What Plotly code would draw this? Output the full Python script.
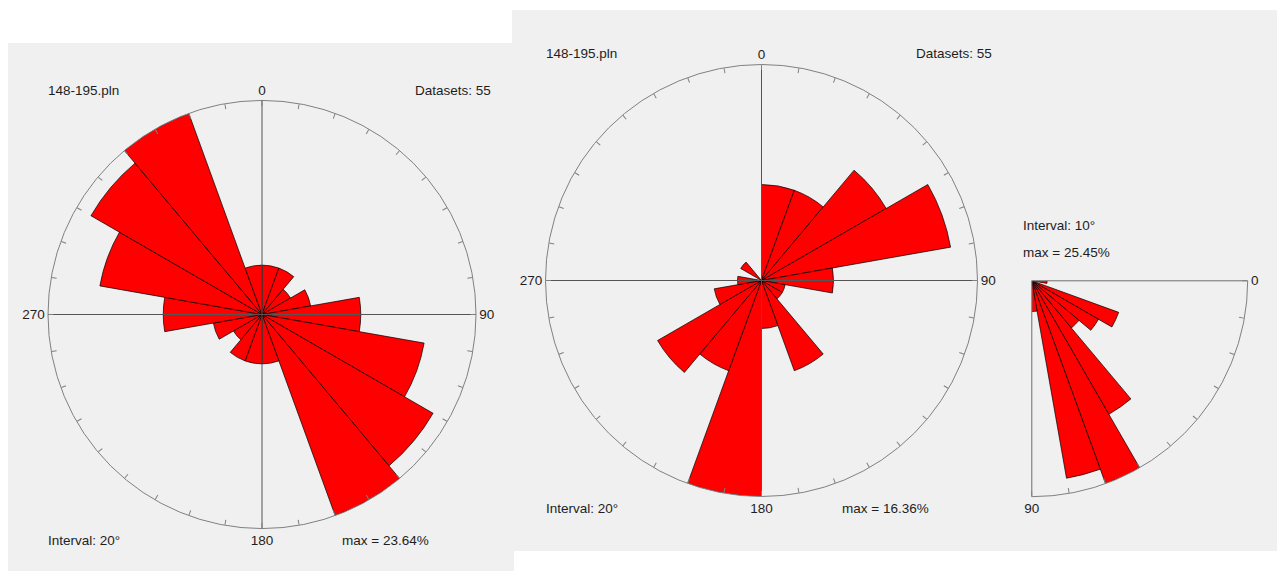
import plotly.graph_objects as go

W, H = 1277, 571

# ---- data -------------------------------------------------------------
file_name = "148-195.pln"
n_datasets = 55

# strike rose (bidirectional), 20 degree classes starting at 0
strike_bins = list(range(0, 360, 20))
strike_counts = [3, 3, 2, 3, 6, 10, 12, 13, 3, 3, 3, 2, 3, 6, 10, 12, 13, 3]

# dip-direction rose, 20 degree classes starting at 0
dipdir_bins = list(range(0, 360, 20))
dipdir_counts = [4, 4, 6, 8, 3, 1, 1, 4, 2, 9, 4, 5, 2, 1, 0, 1, 0, 0]

# dip-angle quarter rose, 10 degree classes from 0 to 90
dip_bins = list(range(0, 90, 10))
dip_counts = [1, 0, 6, 5, 4, 10, 14, 13, 2]

# ---- styling ----------------------------------------------------------
PANEL = "#f0f0f0"
CIRCLE = "#808080"
CROSS = "#555555"
BAR = "#ff0000"
TXT = "#1e1e1e"
FONT = "Arial, Liberation Sans, sans-serif"
FS = 13.5


def pct(counts):
    return [c / n_datasets * 100 for c in counts]


def fx(px):
    return px / W


def fy(py):
    return 1 - py / H


def full_polar(cx, cy, r, rmax):
    vals = list(range(0, 360, 10))
    text = [str(v) if v % 90 == 0 else "" for v in vals]
    return dict(
        domain=dict(x=[fx(cx - r), fx(cx + r)], y=[fy(cy + r), fy(cy - r)]),
        bgcolor="rgba(0,0,0,0)",
        radialaxis=dict(visible=False, range=[0, rmax]),
        angularaxis=dict(
            rotation=90, direction="clockwise", tickmode="array",
            tickvals=vals, ticktext=text, ticks="inside", ticklen=5,
            tickcolor=CIRCLE, tickwidth=1, showline=True, linecolor=CIRCLE,
            linewidth=1, showgrid=False,
            tickfont=dict(family=FONT, size=FS, color=TXT),
        ),
    )


def rose_trace(bins, counts, width, subplot):
    vals = pct(counts)
    return go.Barpolar(
        r=vals, theta=[b + width / 2 for b in bins], width=[width] * len(bins),
        marker=dict(color=BAR, line=dict(color="#000000", width=0.7)),
        subplot=subplot, showlegend=False, hoverinfo="skip",
    )


def cross_traces(rmax, ext, subplot, thetas):
    out = []
    for a, b in thetas:
        out.append(go.Scatterpolar(
            r=[rmax * ext, 0, rmax * ext], theta=[a, a, b], mode="lines",
            line=dict(color=CROSS, width=1), cliponaxis=False,
            subplot=subplot, showlegend=False, hoverinfo="skip",
        ))
    return out


fig = go.Figure()

# left: strike rose
max1 = max(pct(strike_counts))
fig.add_trace(rose_trace(strike_bins, strike_counts, 20, "polar"))
for t in cross_traces(max1, 1.025, "polar", [(0, 180), (90, 270)]):
    fig.add_trace(t)

# middle: dip-direction rose
max2 = max(pct(dipdir_counts))
fig.add_trace(rose_trace(dipdir_bins, dipdir_counts, 20, "polar2"))
for t in cross_traces(max2, 1.025, "polar2", [(0, 180), (90, 270)]):
    fig.add_trace(t)

# right: dip-angle quarter rose
max3 = max(pct(dip_counts))
fig.add_trace(rose_trace(dip_bins, dip_counts, 10, "polar3"))
fig.add_trace(go.Scatterpolar(
    r=[max3 * 1.005, 0, max3], theta=[0, 0, 90], mode="lines",
    line=dict(color=CIRCLE, width=1), cliponaxis=False,
    subplot="polar3", showlegend=False, hoverinfo="skip",
))

dip_vals = list(range(0, 91, 10))
polar3 = dict(
    domain=dict(x=[fx(1031.7), fx(1031.7 + 216)], y=[fy(280.7 + 216), fy(280.7)]),
    sector=[-90, 0],
    bgcolor="rgba(0,0,0,0)",
    radialaxis=dict(visible=False, range=[0, max3]),
    angularaxis=dict(
        rotation=0, direction="clockwise", tickmode="array",
        tickvals=dip_vals, ticktext=[str(v) if v in (0, 90) else "" for v in dip_vals],
        ticks="inside", ticklen=5, tickcolor=CIRCLE, tickwidth=1,
        showline=True, linecolor=CIRCLE, linewidth=1, showgrid=False,
        tickfont=dict(family=FONT, size=FS, color=TXT),
    ),
)

# panel backgrounds
shapes = [
    dict(type="rect", xref="paper", yref="paper", x0=fx(512), x1=fx(1277),
         y0=fy(551), y1=fy(10), fillcolor=PANEL, line=dict(width=0), layer="below"),
    dict(type="rect", xref="paper", yref="paper", x0=fx(8), x1=fx(514),
         y0=fy(571), y1=fy(43), fillcolor=PANEL, line=dict(width=0), layer="below"),
]


def note(text, x, y, anchor="left"):
    return dict(text=text, x=fx(x), y=fy(y), xref="paper", yref="paper",
                xanchor=anchor, yanchor="middle", showarrow=False,
                font=dict(family=FONT, size=FS, color=TXT))


annotations = [
    note(file_name, 46, 90),
    note(f"Datasets: {n_datasets}", 493, 90, "right"),
    note("Interval: 20°", 46, 540),
    note(f"max = {max1:.2f}%", 340, 540),
    note(file_name, 544, 54),
    note(f"Datasets: {n_datasets}", 994, 54, "right"),
    note("Interval: 20°", 544, 508),
    note(f"max = {max2:.2f}%", 840, 508),
    note("Interval: 10°", 1021, 225),
    note(f"max = {max3:.2f}%", 1021, 252),
]

fig.update_layout(
    width=W, height=H, margin=dict(l=0, r=0, t=0, b=0),
    paper_bgcolor="white", plot_bgcolor="white",
    polar=full_polar(262, 314.5, 214, max1),
    polar2=full_polar(761.5, 280.5, 216, max2),
    polar3=polar3,
    shapes=shapes, annotations=annotations,
    showlegend=False,
)

fig.write_html("out.html")
